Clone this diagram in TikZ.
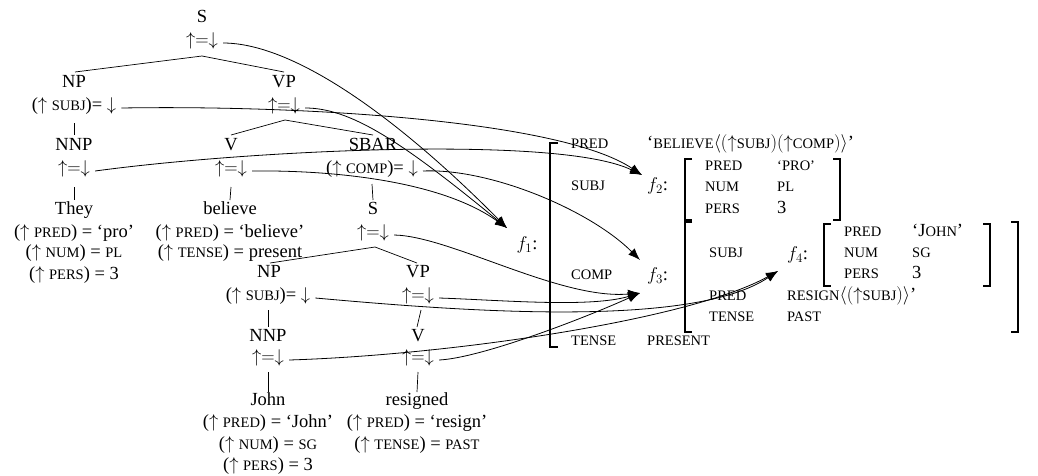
\documentclass[tikz,border=0pt]{standalone}
\usepackage{fix-cm}
\usepackage{fontspec}
\setmainfont{Liberation Serif}
\usetikzlibrary{arrows.meta,calc}
\newcommand\fsc[1]{{\fontsize{14.5}{16}\selectfont #1}}
\begin{document}
\begin{tikzpicture}[x=1pt,y=-1pt,
  lbl/.style={inner sep=0pt, anchor=mid, font=\fontsize{18.5}{22}\selectfont},
  fs/.style={inner sep=0pt, anchor=mid west, font=\fontsize{18.5}{22}\selectfont},
  tl/.style={line width=0.7pt},
  br/.style={line width=1.5pt},
  arr/.style={line width=0.8pt, -{Latex[length=12pt,width=9pt]}}]
\useasboundingbox (0,0) rectangle (1038,475);
% ---------- upper tree ----------
\node[lbl] (s1) at (202,20) {S};
\node[lbl] (s1a) at (202,43) {$\uparrow=\downarrow$};
\node[lbl] (np1) at (74,85) {NP};
\node[lbl] (np1a) at (74,108) {($\uparrow$ \fsc{SUBJ})= $\downarrow$};
\node[lbl] (vp1) at (284,85) {VP};
\node[lbl] (vp1a) at (284,108) {$\uparrow=\downarrow$};
\node[lbl] (nnp1) at (74,148) {NNP};
\node[lbl] (nnp1a) at (74,171) {$\uparrow=\downarrow$};
\node[lbl] (v1) at (231,148) {V};
\node[lbl] (v1a) at (231,171) {$\uparrow=\downarrow$};
\node[lbl] (sbar) at (373,148) {SBAR};
\node[lbl] (sbara) at (372,171) {($\uparrow$ \fsc{COMP})= $\downarrow$};
\node[lbl] (they) at (74,212) {They};
\node[lbl] (theyp) at (74,235) {($\uparrow$ \fsc{PRED}) = ‘pro’};
\node[lbl] (theyn) at (74,255) {($\uparrow$ \fsc{NUM}) = \fsc{PL}};
\node[lbl] (theyr) at (74,277) {($\uparrow$ \fsc{PERS}) = 3};
\node[lbl] (bel) at (230,212) {believe};
\node[lbl] (belp) at (230,235) {($\uparrow$ \fsc{PRED}) = ‘believe’};
\node[lbl] (belt) at (230,255) {($\uparrow$ \fsc{TENSE}) = present};
\node[lbl] (s2) at (373,212) {S};
\node[lbl] (s2a) at (373,235) {$\uparrow=\downarrow$};
% ---------- lower tree ----------
\node[lbl] (np2) at (269,275) {NP};
\node[lbl] (np2a) at (268,298) {($\uparrow$ \fsc{SUBJ})= $\downarrow$};
\node[lbl] (vp2) at (418,275) {VP};
\node[lbl] (vp2a) at (418,298) {$\uparrow=\downarrow$};
\node[lbl] (nnp2) at (268,339) {NNP};
\node[lbl] (nnp2a) at (268,360) {$\uparrow=\downarrow$};
\node[lbl] (v2) at (418,339) {V};
\node[lbl] (v2a) at (418,360) {$\uparrow=\downarrow$};
\node[lbl] (john) at (268,403) {John};
\node[lbl] (johnp) at (268,425) {($\uparrow$ \fsc{PRED}) = ‘John’};
\node[lbl] (johnn) at (268,447) {($\uparrow$ \fsc{NUM}) = \fsc{SG}};
\node[lbl] (johnr) at (268,468) {($\uparrow$ \fsc{PERS}) = 3};
\node[lbl] (res) at (417,403) {resigned};
\node[lbl] (resp) at (417,425) {($\uparrow$ \fsc{PRED}) = ‘resign’};
\node[lbl] (rest) at (417,447) {($\uparrow$ \fsc{TENSE}) = \fsc{PAST}};
% ---------- tree edges ----------
\draw[tl] ([xshift=1pt,yshift=13pt]np1.mid) -- ([yshift=-13pt]s1a.mid) -- ([yshift=13pt]vp1.mid);
\draw[tl] ([yshift=13pt]v1.mid) -- ([xshift=1pt,yshift=-12pt]vp1a.mid) -- ([yshift=13pt]sbar.mid);
\draw[tl] ([yshift=-15pt]np1a.mid) -- ([yshift=13pt]nnp1.mid);
\draw[tl] ([yshift=-16pt]nnp1a.mid) -- ([yshift=12pt]they.mid);
\draw[tl] ([yshift=-16pt]v1a.mid) -- ([yshift=12pt]bel.mid);
\draw[tl] ([yshift=-13pt]sbara.mid) -- ([yshift=12pt]s2.mid);
\draw[tl] ([xshift=1pt,yshift=12pt]np2.mid) -- ([xshift=2pt,yshift=-12pt]s2a.mid) -- ([xshift=-1pt,yshift=12pt]vp2.mid);
\draw[tl] ([yshift=-12pt]np2a.mid) -- ([yshift=12pt]nnp2.mid);
\draw[tl] ([xshift=3pt,yshift=-12pt]vp2a.mid) -- ([xshift=-1pt,yshift=12pt]v2.mid);
\draw[tl] ([yshift=-12pt]nnp2a.mid) -- ([yshift=11pt]john.mid);
\draw[tl] ([yshift=-12pt]v2a.mid) -- ([yshift=11pt]res.mid);
% ---------- f-structure ----------
\draw[br] (558,143) -- (550,143) -- (550,347) -- (558,347);
\draw[br] (692,159) -- (685,159) -- (685,220) -- (692,220);
\draw[br] (833,159) -- (840,159) -- (840,220) -- (833,220);
\draw[br] (692,222) -- (685,222) -- (685,332) -- (692,332);
\draw[br] (1011,222) -- (1018,222) -- (1018,332) -- (1011,332);
\draw[br] (831,224) -- (824,224) -- (824,286) -- (831,286);
\draw[br] (983,224) -- (990,224) -- (990,286) -- (983,286);
\node[lbl] (f1) at (527,247) {$f_1$:};
\node[fs] (f1pred) at (571,146) {\fsc{PRED}};
\node[fs] (f1predv) at (647,146) {‘\fsc{BELIEVE}$\bigl\langle\bigl(\uparrow$\fsc{SUBJ}$\bigr)\bigl(\uparrow$\fsc{COMP}$\bigr)\bigr\rangle$’};
\node[fs] (f1subj) at (571,188) {\fsc{SUBJ}};
\node[fs] (f2) at (647,188) {$f_2$:};
\node[fs] (f2pred) at (705,168) {\fsc{PRED}};
\node[fs] (f2predv) at (777,168) {\fsc{‘PRO’}};
\node[fs] (f2num) at (705,189) {\fsc{NUM}};
\node[fs] (f2numv) at (777,189) {\fsc{PL}};
\node[fs] (f2pers) at (705,211) {\fsc{PERS}};
\node[fs] (f2persv) at (777,211) {3};
\node[fs] (f1comp) at (571,277) {\fsc{COMP}};
\node[fs] (f3) at (647,278) {$f_3$:};
\node[fs] (f3subj) at (709,255) {\fsc{SUBJ}};
\node[fs] (f4) at (787,257) {$f_4$:};
\node[fs] (f4pred) at (844,234) {\fsc{PRED}};
\node[fs] (f4predv) at (912,234) {‘J\fsc{OHN}’};
\node[fs] (f4num) at (844,255) {\fsc{NUM}};
\node[fs] (f4numv) at (912,255) {\fsc{SG}};
\node[fs] (f4pers) at (844,276) {\fsc{PERS}};
\node[fs] (f4persv) at (912,276) {3};
\node[fs] (f3pred) at (709,298) {\fsc{PRED}};
\node[fs] (f3predv) at (787,298) {\fsc{RESIGN}$\bigl\langle\bigl(\uparrow$\fsc{SUBJ}$\bigr)\bigr\rangle$’};
\node[fs] (f3tense) at (709,319) {\fsc{TENSE}};
\node[fs] (f3tensev) at (787,319) {\fsc{PAST}};
\node[fs] (f1tense) at (571,343) {\fsc{TENSE}};
\node[fs] (f1tensev) at (647,343) {\fsc{PRESENT}};
% ---------- arrow targets ----------
\coordinate (t1) at (507,228);
\coordinate (t2) at (642,175);
\coordinate (t3u) at (640,260);
\coordinate (t3l) at (640,293);
\coordinate (t4) at (778,271);
% ---------- arrows ----------
\draw[arr] ([xshift=5pt]s1a.mid east) .. controls (290,43) and (390,110) .. (t1);
\draw[arr] ([xshift=5pt]vp1a.mid east) .. controls (350,108) and (400,140) .. (t1);
\draw[arr] ([xshift=5pt]v1a.mid east) .. controls (330,170) and (440,180) .. (t1);
\draw[arr] ([xshift=5pt]np1a.mid east) .. controls (300,105) and (560,120) .. (t2);
\draw[arr] ([xshift=5pt]nnp1a.mid east) .. controls (250,150) and (560,135) .. (t2);
\draw[arr] ([xshift=5pt]sbara.mid east) .. controls (490,168) and (590,210) .. (t3u);
\draw[arr] ([xshift=5pt]s2a.mid east) .. controls (450,236) and (560,300) .. (t3l);
\draw[arr] ([xshift=5pt]vp2a.mid east) .. controls (500,300) and (590,308) .. (t3l);
\draw[arr] ([xshift=5pt]v2a.mid east) .. controls (480,358) and (580,320) .. (t3l);
\draw[arr] ([xshift=5pt]np2a.mid east) .. controls (450,310) and (690,330) .. (t4);
\draw[arr] ([xshift=5pt]nnp2a.mid east) .. controls (450,355) and (690,320) .. (t4);
\end{tikzpicture}
\end{document}
